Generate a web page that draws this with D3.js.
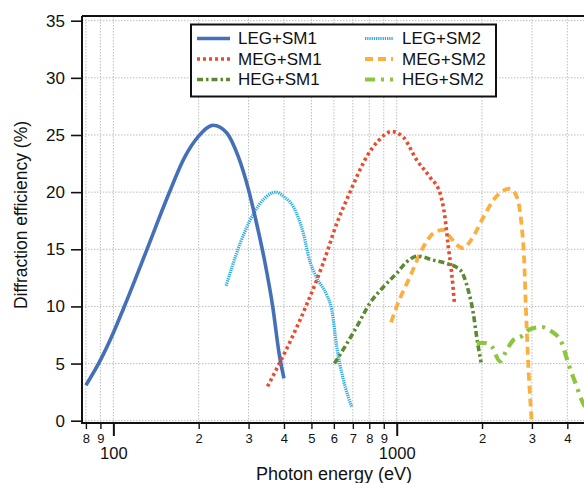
<!DOCTYPE html>
<html>
<head>
<meta charset="utf-8">
<script src="https://cdn.jsdelivr.net/npm/d3@7"></script>
<style>
  html, body { margin: 0; padding: 0; background: #fff; }
  svg { display: block; font-family: "Liberation Sans", Arial, Helvetica, sans-serif; }
</style>
</head>
<body>
<svg id="chart" width="584" height="483"></svg>
<script>
// ---------- DATA (photon energy eV, diffraction efficiency %) ----------
const legSm1 = [[80,3.1],[90,5.3],[100,7.7],[108.5,9.8],[131,14.9],[156,19.7],[178,23.0],[200,24.9],[225,25.85],[251,25.2],[276,23.1],[300,20.2],[320,17.3],[343,13.8],[365,10],[385,5.8],[400,3.7]];
const legSm2 = [[250,11.8],[280,15.5],[312,18.1],[343,19.5],[375,20],[400,19.6],[432,18.7],[468,16.4],[493,14.0],[522,12.5],[566,11.0],[590,9.7],[614,6.5],[648,3.6],[694,1.2]];
const megSm1 = [[350,3],[387,5.1],[478,10],[574,15.1],[597,16.4],[684,20],[784,23.1],[861,24.5],[960,25.3],[1055,24.8],[1177,22.8],[1311,21.3],[1422,19.9],[1480,17.8],[1521,15.2],[1563,12.9],[1597,10.4]];
const megSm2 = [[955,8.6],[1000,10],[1114,12.6],[1241,15.2],[1346,16.4],[1460,16.7],[1540,16.1],[1628,15.4],[1717,15.1],[1840,15.9],[2022,17.8],[2193,19.3],[2510,20.3],[2651,19.6],[2761,17],[2814,14.3],[2852,10.3],[2900,5.9],[2990,0.1]];
const hegSm1 = [[603,5.0],[722,8.2],[805,10.3],[897,11.7],[1000,12.9],[1084,13.9],[1185,14.4],[1346,14.05],[1480,13.8],[1673,13.2],[1789,11.4],[1863,9.4],[1916,7.3],[1984,5.1]];
const hegSm2 = [[1916,6.8],[2050,6.8],[2164,6.5],[2315,5.2],[2445,6.2],[2578,7.05],[2761,7.4],[2953,8.0],[3249,8.2],[3475,7.9],[3822,6.8],[4033,5.0],[4316,3.0],[4530,1.6],[4650,1.1]];

const seriesNames = ["LEG+SM1","MEG+SM1","HEG+SM1","LEG+SM2","MEG+SM2","HEG+SM2"];
const seriesData  = [legSm1, megSm1, hegSm1, legSm2, megSm2, hegSm2];

const yTickValues = [0,5,10,15,20,25,30,35];
const xMinorTicks = [80,90,200,300,400,500,600,700,800,900,2000,3000,4000];
const xMinorLabels = ["8","9","2","3","4","5","6","7","8","9","2","3","4"];
const xMajorTicks = [100,1000];
const xMajorLabels = ["100","1000"];
const xGridValues = [80,90,100,200,300,400,500,600,700,800,900,1000,2000,3000,4000];
const xTitle = "Photon energy (eV)";
const yTitle = "Diffraction efficiency (%)";

// ---------- STYLES ----------
const styles = {
  "LEG+SM1": {color:"#4470b8", width:3.6, dash:null},
  "LEG+SM2": {color:"#2eaee2", width:3.2, dash:"1.3,0.9"},
  "MEG+SM1": {color:"#ec4a2c", width:3.6, dash:"3,3"},
  "MEG+SM2": {color:"#fbb03e", width:3.8, dash:"8,5"},
  "HEG+SM1": {color:"#5b8a33", width:3.6, dash:"6,3,2.5,3"},
  "HEG+SM2": {color:"#8cc63f", width:4.2, dash:"10,6,3,6"}
};

(function draw() {
const svg = d3.select("#chart");
const pL = 82, pT = 16, pB = 423, pR = 584;

const x = d3.scaleLog().domain([77.5, 5000]).range([82, 113.3 + 283.4 * Math.log10(50)]);
const y = d3.scaleLinear().domain([0, 35]).range([420.7, 20.7]);

svg.append("defs").append("clipPath").attr("id","clip")
  .append("rect").attr("x", pL).attr("y", pT).attr("width", pR - pL).attr("height", pB - pT);

// grid
const grid = svg.append("g").attr("clip-path","url(#clip)");
grid.selectAll("line.hg").data(yTickValues).join("line").attr("class","hg")
  .attr("x1", pL).attr("x2", pR)
  .attr("y1", d => y(d)).attr("y2", d => y(d))
  .attr("stroke", "#bdbdbd").attr("stroke-width", 1).attr("stroke-dasharray", "1.5,1.5");
grid.selectAll("line.vg").data(xGridValues).join("line").attr("class","vg")
  .attr("x1", d => x(d)).attr("x2", d => x(d))
  .attr("y1", pT).attr("y2", pB)
  .attr("stroke", "#bdbdbd").attr("stroke-width", 1).attr("stroke-dasharray", "1.5,1.5");

// curves
const line = d3.line().x(d => x(d[0])).y(d => y(d[1])).curve(d3.curveMonotoneX);
const curves = svg.append("g").attr("clip-path","url(#clip)");
const order = [3,0,4,1,2,5];
order.forEach(i => {
  const s = styles[seriesNames[i]];
  curves.append("path").datum(seriesData[i])
    .attr("d", line)
    .attr("fill","none")
    .attr("stroke", s.color)
    .attr("stroke-width", s.width)
    .attr("stroke-dasharray", s.dash)
    .attr("stroke-linejoin","round");
});

// frame top
svg.append("line").attr("x1", pL).attr("x2", pR).attr("y1", pT).attr("y2", pT)
  .attr("stroke","#111").attr("stroke-width",2);

// y axis
const yAxis = svg.append("g").attr("transform", `translate(${pL},0)`)
  .call(d3.axisLeft(y).tickValues(yTickValues).tickSize(11).tickPadding(6).tickSizeOuter(0));
yAxis.select(".domain").remove();
yAxis.append("line").attr("x1",0).attr("x2",0).attr("y1",pT).attr("y2",pB+1)
  .attr("stroke","#111").attr("stroke-width",2);
yAxis.selectAll(".tick line").attr("stroke","#111").attr("stroke-width",1.6);
yAxis.selectAll(".tick text").attr("font-size", 17).attr("fill","#111")
  .attr("font-family",'"Liberation Sans", Arial, sans-serif');

// x axis (minor)
const xMinor = svg.append("g").attr("transform", `translate(0,${pB})`)
  .call(d3.axisBottom(x).tickValues(xMinorTicks).tickSize(6).tickPadding(4.5)
    .tickFormat((d,i) => xMinorLabels[i]).tickSizeOuter(0));
xMinor.select(".domain").remove();
xMinor.selectAll(".tick line").attr("stroke","#111").attr("stroke-width",1.4);
xMinor.selectAll(".tick text").attr("font-size", 13).attr("fill","#111")
  .attr("font-family",'"Liberation Sans", Arial, sans-serif');

// x axis (major)
const xMajor = svg.append("g").attr("transform", `translate(0,${pB})`)
  .call(d3.axisBottom(x).tickValues(xMajorTicks).tickSize(13).tickPadding(11.5)
    .tickFormat((d,i) => xMajorLabels[i]).tickSizeOuter(0));
xMajor.select(".domain").remove();
xMajor.selectAll(".tick line").attr("stroke","#111").attr("stroke-width",2);
xMajor.selectAll(".tick text").attr("font-size", 16.5).attr("fill","#111")
  .attr("font-family",'"Liberation Sans", Arial, sans-serif');

svg.append("line").attr("x1", pL - 1).attr("x2", pR).attr("y1", pB).attr("y2", pB)
  .attr("stroke","#111").attr("stroke-width",2);

// titles
svg.append("text").attr("x", 334).attr("y", 479.5).attr("text-anchor","middle")
  .attr("font-size", 18).attr("fill","#111").text(xTitle);
svg.append("text").attr("transform","translate(26.5,215) rotate(-90)").attr("text-anchor","middle")
  .attr("font-size", 17.5).attr("fill","#111").text(yTitle);

// legend
const lg = svg.append("g");
lg.append("rect").attr("x",191).attr("y",24.5).attr("width",305).attr("height",72)
  .attr("fill","#fff").attr("stroke","#111").attr("stroke-width",2);
const legendPos = [
  {x1:197, x2:230, tx:238, ty:38.5},
  {x1:197, x2:230, tx:238, ty:59},
  {x1:197, x2:230, tx:238, ty:79.5},
  {x1:365, x2:393, tx:402, ty:38.5},
  {x1:365, x2:393, tx:402, ty:59},
  {x1:365, x2:393, tx:402, ty:79.5}
];
seriesNames.forEach((n,i) => {
  const s = styles[n], p = legendPos[i];
  lg.append("line").attr("x1",p.x1).attr("x2",p.x2).attr("y1",p.ty).attr("y2",p.ty)
    .attr("stroke",s.color).attr("stroke-width",s.width).attr("stroke-dasharray",s.dash);
  lg.append("text").attr("x",p.tx).attr("y",p.ty).attr("dy","0.35em")
    .attr("font-size",17).attr("fill","#111").text(n);
});
})();
</script>
</body>
</html>
